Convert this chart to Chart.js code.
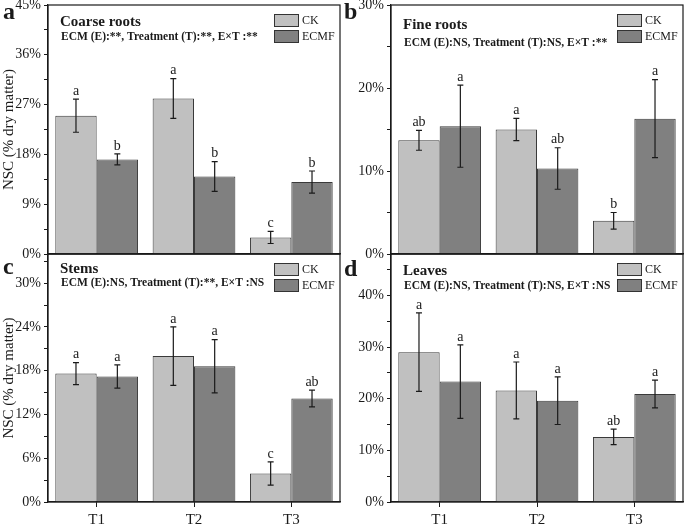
<!DOCTYPE html>
<html>
<head>
<meta charset="utf-8">
<script src="https://cdn.jsdelivr.net/npm/chart.js@4"></script>
<style>
  body { margin: 0; background: #fff; }
  #wrap { position: relative; width: 685px; height: 525px; }
  #wrap canvas { position: absolute; left: 0; top: 0; }
</style>
</head>
<body>
<div id="wrap">
  <canvas id="cA" width="685" height="525"></canvas>
  <canvas id="cB" width="685" height="525"></canvas>
  <canvas id="cC" width="685" height="525"></canvas>
  <canvas id="cD" width="685" height="525"></canvas>
</div>
<script>
// categories and series
const groups = ['T1', 'T2', 'T3'];
const seriesNames = ['CK', 'ECMF'];

// a - coarse roots
const coarseCK = [25.0, 28.1, 3.0];
const coarseCKErr = [3.0, 3.6, 1.1];
const coarseECMF = [17.1, 14.0, 13.0];
const coarseECMFErr = [1.0, 2.7, 2.0];
const coarseCKLetters = ['a', 'a', 'c'];
const coarseECMFLetters = ['b', 'b', 'b'];

// b - fine roots
const fineCK = [13.7, 15.0, 4.0];
const fineCKErr = [1.2, 1.35, 1.0];
const fineECMF = [15.4, 10.3, 16.3];
const fineECMFErr = [4.95, 2.5, 4.7];
const fineCKLetters = ['ab', 'a', 'b'];
const fineECMFLetters = ['a', 'ab', 'a'];

// c - stems
const stemCK = [17.6, 20.0, 3.9];
const stemCKErr = [1.5, 4.0, 1.6];
const stemECMF = [17.2, 18.6, 14.2];
const stemECMFErr = [1.6, 3.65, 1.15];
const stemCKLetters = ['a', 'a', 'c'];
const stemECMFLetters = ['a', 'a', 'ab'];

// d - leaves
const leafCK = [29.0, 21.6, 12.6];
const leafCKErr = [7.6, 5.5, 1.5];
const leafECMF = [23.3, 19.6, 20.9];
const leafECMFErr = [7.1, 4.6, 2.7];
const leafCKLetters = ['a', 'a', 'ab'];
const leafECMFLetters = ['a', 'a', 'a'];

// y axis ranges: max, major step, minor step
const coarseTicks = [45, 9, 4.5];
const fineTicks = [30, 10, 5];
const stemTicks = [34, 6, 3];
const leafTicks = [48, 10, 5];

const panelTitles = ['Coarse roots', 'Fine roots', 'Stems', 'Leaves'];
const panelStats = [
  'ECM (E):**, Treatment (T):**, E\u00d7T :**',
  'ECM (E):NS, Treatment (T):NS, E\u00d7T :**',
  'ECM (E):NS, Treatment (T):**, E\u00d7T :NS',
  'ECM (E):NS, Treatment (T):NS, E\u00d7T :NS'
];
const panelLetters = ['a', 'b', 'c', 'd'];

const SERIF = '"Liberation Serif", "Times New Roman", serif';
const INK = '#1a1a1a';
const fillCK = '#c0c0c0';
const fillECMF = '#808080';

const panels = [
  { id: 'cA', ck: coarseCK, ckErr: coarseCKErr, ec: coarseECMF, ecErr: coarseECMFErr,
    ckL: coarseCKLetters, ecL: coarseECMFLetters, ticks: coarseTicks,
    left: 48, right: 340, top: 5, bottom: 254, bottomRow: false, yTitle: true,
    titleDy: 17, statsDy: 32, letterX: 3, letterY: 13 },
  { id: 'cB', ck: fineCK, ckErr: fineCKErr, ec: fineECMF, ecErr: fineECMFErr,
    ckL: fineCKLetters, ecL: fineECMFLetters, ticks: fineTicks,
    left: 391, right: 683, top: 5, bottom: 254, bottomRow: false, yTitle: false,
    titleDy: 20, statsDy: 38, letterX: 344, letterY: 13 },
  { id: 'cC', ck: stemCK, ckErr: stemCKErr, ec: stemECMF, ecErr: stemECMFErr,
    ckL: stemCKLetters, ecL: stemECMFLetters, ticks: stemTicks,
    left: 48, right: 340, top: 254, bottom: 502, bottomRow: true, yTitle: true,
    titleDy: 15, statsDy: 29, letterX: 3, letterY: 268 },
  { id: 'cD', ck: leafCK, ckErr: leafCKErr, ec: leafECMF, ecErr: leafECMFErr,
    ckL: leafCKLetters, ecL: leafECMFLetters, ticks: leafTicks,
    left: 391, right: 683, top: 254, bottom: 502, bottomRow: true, yTitle: false,
    titleDy: 17, statsDy: 32, letterX: 344, letterY: 270 }
];

const Y_W = 48;   // fixed width of the y axis box
const X_H = 23;   // fixed height of the bottom x axis box

function makeExtras(p, idx) {
  return {
    id: 'extras' + idx,
    afterDatasetsDraw(chart) {
      const ctx = chart.ctx;
      const ys = chart.scales.y;
      const errs = [p.ckErr, p.ecErr];
      const lets = [p.ckL, p.ecL];
      ctx.save();
      chart.data.datasets.forEach((ds, i) => {
        const meta = chart.getDatasetMeta(i);
        meta.data.forEach((bar, j) => {
          const v = ds.data[j], e = errs[i][j];
          const yt = ys.getPixelForValue(v + e);
          const yb = ys.getPixelForValue(v - e);
          ctx.strokeStyle = INK;
          ctx.lineWidth = 1.2;
          ctx.beginPath();
          ctx.moveTo(bar.x, yt); ctx.lineTo(bar.x, yb);
          ctx.moveTo(bar.x - 3, yt); ctx.lineTo(bar.x + 3, yt);
          ctx.moveTo(bar.x - 3, yb); ctx.lineTo(bar.x + 3, yb);
          ctx.stroke();
          ctx.fillStyle = INK;
          ctx.font = '14px ' + SERIF;
          ctx.textAlign = 'center';
          ctx.textBaseline = 'bottom';
          ctx.fillText(lets[i][j], bar.x, yt - 1);
        });
      });
      ctx.restore();
    },
    afterDraw(chart) {
      const ctx = chart.ctx;
      const a = chart.chartArea;
      ctx.save();
      // frame
      ctx.strokeStyle = INK;
      ctx.lineWidth = 1.2;
      ctx.strokeRect(a.left, a.top, a.right - a.left, a.bottom - a.top);
      // title and statistics
      ctx.fillStyle = INK;
      ctx.textAlign = 'left';
      ctx.textBaseline = 'middle';
      ctx.font = 'bold 15px ' + SERIF;
      ctx.fillText(panelTitles[idx], a.left + 12, a.top + p.titleDy);
      ctx.font = 'bold 11.5px ' + SERIF;
      ctx.fillText(panelStats[idx], a.left + 13, a.top + p.statsDy);
      // legend
      const bx = a.right - 66;
      chart.data.datasets.forEach((ds, i) => {
        const by = a.top + 9 + i * 16;
        ctx.fillStyle = ds.backgroundColor;
        ctx.fillRect(bx, by, 24, 12);
        ctx.strokeStyle = '#333';
        ctx.lineWidth = 1;
        ctx.strokeRect(bx + 0.5, by + 0.5, 24, 12);
        ctx.fillStyle = INK;
        ctx.font = '12px ' + SERIF;
        ctx.fillText(ds.label, bx + 28, by + 6.5);
      });
      // panel letter
      ctx.font = 'bold 24px ' + SERIF;
      ctx.textBaseline = 'middle';
      ctx.fillText(panelLetters[idx], p.letterX, p.letterY);
      ctx.restore();
    }
  };
}

panels.forEach((p, idx) => {
  const [yMax, major, minor] = p.ticks;
  new Chart(document.getElementById(p.id), {
    type: 'bar',
    data: {
      labels: groups,
      datasets: [
        { label: seriesNames[0], data: p.ck, backgroundColor: fillCK },
        { label: seriesNames[1], data: p.ec, backgroundColor: fillECMF }
      ]
    },
    options: {
      responsive: false,
      animation: false,
      devicePixelRatio: 1,
      layout: {
        padding: {
          left: p.left - Y_W,
          right: 685 - p.right,
          top: p.top,
          bottom: p.bottomRow ? 525 - p.bottom - X_H : 525 - p.bottom
        }
      },
      datasets: {
        bar: {
          barPercentage: 1,
          categoryPercentage: 0.85,
          borderWidth: 1,
          borderColor: '#3a3a3a'
        }
      },
      plugins: {
        legend: { display: false },
        tooltip: { enabled: false }
      },
      scales: {
        x: {
          afterFit: (s) => {
            s.height = p.bottomRow ? X_H : 0;
            s.paddingLeft = 0; s.paddingRight = 0;
          },
          grid: {
            display: p.bottomRow, drawOnChartArea: false, offset: false,
            tickLength: 5, color: INK
          },
          border: { display: true, color: INK, width: 1.2 },
          ticks: {
            display: p.bottomRow, color: INK, padding: 4,
            font: { family: SERIF, size: 15 }
          }
        },
        y: {
          min: 0,
          max: yMax,
          afterFit: (s) => {
            s.width = Y_W;
            s.paddingTop = 0; s.paddingBottom = 0;
          },
          grid: { drawOnChartArea: false, tickLength: 4, color: INK },
          border: { display: true, color: INK, width: 1.2 },
          title: {
            display: p.yTitle,
            text: 'NSC (% dry matter)',
            color: INK,
            padding: { top: 0, bottom: 0 },
            font: { family: SERIF, size: 15 }
          },
          ticks: {
            stepSize: minor,
            includeBounds: false,
            autoSkip: false,
            color: INK,
            padding: 3,
            font: { family: SERIF, size: 14 },
            callback: (v) => {
              const r = v / major;
              return Math.abs(r - Math.round(r)) < 1e-6 ? v + '%' : '';
            }
          }
        }
      }
    },
    plugins: [makeExtras(p, idx)]
  });
});
</script>
</body>
</html>
